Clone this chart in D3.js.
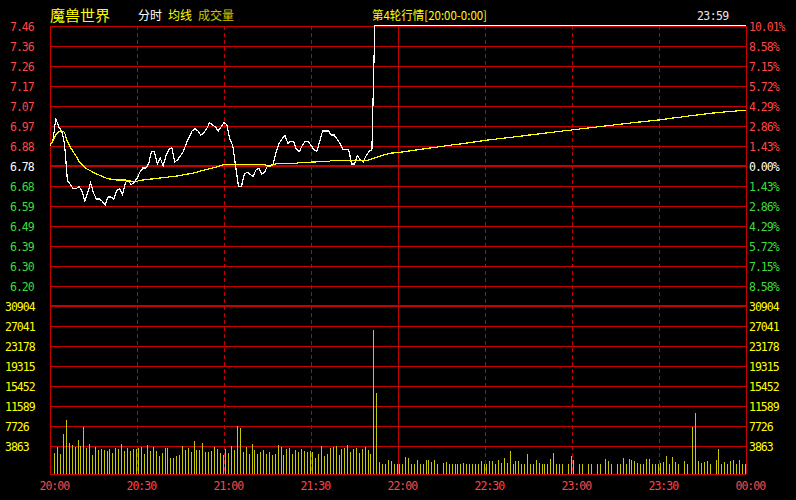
<!DOCTYPE html>
<html><head><meta charset="utf-8">
<script src="https://cdn.jsdelivr.net/npm/d3@7"></script>
<style>body{margin:0;background:#000;overflow:hidden} svg{display:block}</style>
</head><body><svg id="c" width="796" height="500"></svg>
<script>
// ---------------- data ----------------
const stockName = "魔兽世界";
const basePrice = 6.78;
const pctTicks = [10.01, 8.58, 7.15, 5.72, 4.29, 2.86, 1.43, 0, -1.43, -2.86, -4.29, -5.72, -7.15, -8.58];
const priceLabels = ["7.46","7.36","7.26","7.17","7.07","6.97","6.88","6.78","6.68","6.59","6.49","6.39","6.30","6.20"];
const pctLabels = ["10.01%","8.58%","7.15%","5.72%","4.29%","2.86%","1.43%","0.00%","1.43%","2.86%","4.29%","5.72%","7.15%","8.58%"];
const volTicks = [30904, 27041, 23178, 19315, 15452, 11589, 7726, 3863];
const timeTicks = [0, 30, 60, 90, 120, 150, 180, 210, 240];
const timeLabels = ["20:00","20:30","21:00","21:30","22:00","22:30","23:00","23:30","00:00"];

// last price per minute (0..240)
const prices = [
6.88,6.90,7.01,6.97,6.95,6.89,6.71,6.69,6.67,6.67,
6.68,6.66,6.61,6.65,6.70,6.65,6.62,6.62,6.61,6.59,
6.63,6.63,6.62,6.66,6.67,6.64,6.70,6.71,6.69,6.70,
6.72,6.75,6.77,6.77,6.79,6.85,6.85,6.79,6.82,6.78,
6.83,6.86,6.87,6.80,6.81,6.83,6.85,6.89,6.92,6.95,
6.96,6.95,6.93,6.94,6.96,6.99,6.98,6.97,6.95,6.97,
6.99,6.98,6.91,6.88,6.78,6.68,6.68,6.74,6.75,6.74,
6.73,6.76,6.77,6.74,6.75,6.78,6.78,6.79,6.85,6.89,
6.91,6.93,6.89,6.90,6.90,6.86,6.85,6.88,6.90,6.90,
6.88,6.86,6.85,6.90,6.95,6.95,6.95,6.93,6.93,6.91,
6.89,6.86,6.86,6.86,6.79,6.79,6.83,6.81,6.80,6.83,
6.85,6.86,7.46,7.46,7.46,7.46,7.46,7.46,7.46,7.46,
7.46,7.46,7.46,7.46,7.46,7.46,7.46,7.46,7.46,7.46,
7.46,7.46,7.46,7.46,7.46,7.46,7.46,7.46,7.46,7.46,
7.46,7.46,7.46,7.46,7.46,7.46,7.46,7.46,7.46,7.46,
7.46,7.46,7.46,7.46,7.46,7.46,7.46,7.46,7.46,7.46,
7.46,7.46,7.46,7.46,7.46,7.46,7.46,7.46,7.46,7.46,
7.46,7.46,7.46,7.46,7.46,7.46,7.46,7.46,7.46,7.46,
7.46,7.46,7.46,7.46,7.46,7.46,7.46,7.46,7.46,7.46,
7.46,7.46,7.46,7.46,7.46,7.46,7.46,7.46,7.46,7.46,
7.46,7.46,7.46,7.46,7.46,7.46,7.46,7.46,7.46,7.46,
7.46,7.46,7.46,7.46,7.46,7.46,7.46,7.46,7.46,7.46,
7.46,7.46,7.46,7.46,7.46,7.46,7.46,7.46,7.46,7.46,
7.46,7.46,7.46,7.46,7.46,7.46,7.46,7.46,7.46,7.46,
7.46
];

// average price per minute (0..240)
const avgPrices = [
6.882,6.901,6.930,6.946,6.951,6.943,6.899,6.872,6.849,6.828,
6.802,6.787,6.773,6.763,6.757,6.748,6.741,6.736,6.730,6.723,
6.719,6.716,6.714,6.712,6.712,6.712,6.712,6.710,6.706,6.704,
6.705,6.711,6.712,6.714,6.716,6.717,6.718,6.720,6.722,6.723,
6.725,6.727,6.728,6.730,6.732,6.735,6.737,6.740,6.742,6.745,
6.748,6.752,6.756,6.759,6.763,6.766,6.770,6.774,6.778,6.782,
6.787,6.788,6.788,6.788,6.788,6.788,6.788,6.788,6.788,6.788,
6.788,6.788,6.788,6.788,6.788,6.780,6.778,6.788,6.790,6.792,
6.793,6.793,6.793,6.793,6.793,6.793,6.796,6.797,6.798,6.798,
6.799,6.799,6.800,6.800,6.801,6.801,6.802,6.806,6.807,6.807,
6.807,6.807,6.807,6.807,6.807,6.807,6.808,6.808,6.808,6.808,
6.809,6.814,6.819,6.824,6.828,6.833,6.836,6.841,6.843,6.844,
6.845,6.847,6.849,6.851,6.853,6.855,6.857,6.859,6.861,6.863,
6.865,6.867,6.869,6.871,6.873,6.875,6.877,6.879,6.881,6.883,
6.884,6.886,6.888,6.890,6.892,6.894,6.896,6.898,6.900,6.902,
6.904,6.906,6.907,6.909,6.911,6.913,6.914,6.916,6.918,6.919,
6.921,6.923,6.924,6.926,6.928,6.930,6.931,6.933,6.935,6.936,
6.938,6.940,6.941,6.943,6.945,6.947,6.948,6.950,6.952,6.953,
6.955,6.957,6.958,6.960,6.961,6.963,6.965,6.966,6.968,6.970,
6.971,6.973,6.975,6.976,6.978,6.980,6.981,6.983,6.985,6.986,
6.988,6.990,6.991,6.993,6.994,6.996,6.997,6.999,7.000,7.002,
7.003,7.005,7.007,7.009,7.011,7.013,7.014,7.016,7.018,7.020,
7.022,7.024,7.026,7.027,7.029,7.031,7.032,7.034,7.036,7.037,
7.039,7.040,7.041,7.043,7.044,7.045,7.046,7.047,7.049,7.050,
7.051
];

// volume per minute (bar k covers minute k..k+1)
const volumes = [
0,2575,3734,2382,6181,8885,4507,4056,3734,5022,
3927,7597,3541,4249,2125,3734,3090,3284,3090,2897,
3284,2511,3477,3284,4249,2897,3477,2897,3284,3284,
3477,3670,2318,4056,2897,3670,2897,1932,2511,3477,
3477,1545,1545,1932,2125,3863,3090,3477,2704,4829,
3090,3090,4442,2704,2704,2897,3670,3284,2511,2125,
3284,2511,3863,3090,7726,7340,2704,3670,2318,4249,
3090,2318,2704,3090,2318,2704,2125,2318,4056,3670,
2125,3284,3477,2318,3090,2704,3284,2897,2704,2897,
2704,1545,2318,3863,1932,2318,3477,3670,3863,2125,
3284,3477,4056,2704,3284,3477,2511,3284,3670,3090,
2318,26268,14100,773,386,386,1159,966,386,386,
386,386,1738,1545,386,386,1159,386,386,1159,
1159,773,1159,386,0,580,773,386,386,386,
386,386,580,386,386,386,386,386,966,386,
386,966,966,386,1159,580,1545,580,2897,386,
966,966,386,386,2318,386,386,1159,580,386,
386,386,1352,2511,386,386,386,0,386,1932,
1159,0,386,386,0,386,386,0,386,386,
0,1352,966,386,0,386,386,1545,386,1352,
1159,966,580,386,386,1352,1352,386,386,386,
580,773,1932,386,1738,773,386,0,966,386,
0,7533,10237,966,580,773,966,386,0,1159,
3284,386,773,386,966,1159,386,1159,386,386
];

// ---------------- drawing ----------------
const W = 796, H = 500;
const L = 50, R = 746, T = 26, MID = 306, B = 474;
const GRID = "#c80000";
const RED_TXT = "#ff4646", GREEN_TXT = "#3cdc3c", YEL = "#ffff00", OLIVE = "#c8c800";
const MONO = "'DejaVu Sans Mono', 'Liberation Mono', monospace";
const CJK = "'Noto Sans CJK SC', 'Noto Sans', sans-serif";

const svg = d3.select("#c");
svg.append("rect").attr("width", W).attr("height", H).attr("fill", "#000");

const x = d3.scaleLinear().domain([0, 240]).range([L, R]);
const yP = d3.scaleLinear().domain([basePrice * (1 - 0.1001), basePrice * (1 + 0.1001)]).range([MID, T]);
const yV = d3.scaleLinear().domain([0, volTicks[0]]).range([MID + 160, MID]);

const grid = svg.append("g").attr("shape-rendering", "crispEdges");

// horizontal price grid
pctTicks.forEach((p, i) => {
  const yy = Math.round(yP(basePrice * (1 + p / 100)));
  grid.append("line").attr("x1", L).attr("x2", R).attr("y1", yy).attr("y2", yy)
    .attr("stroke", GRID).attr("stroke-width", p === 0 ? 2 : 1);
});
// horizontal volume grid
volTicks.forEach((v, i) => {
  const yy = Math.round(yV(v));
  grid.append("line").attr("x1", L).attr("x2", R).attr("y1", yy).attr("y2", yy)
    .attr("stroke", GRID).attr("stroke-width", i === 0 ? 2 : 1);
});
// vertical grid
timeTicks.forEach((t, i) => {
  const xx = Math.round(x(t));
  const solid = (t === 0 || t === 120 || t === 240);
  grid.append("line").attr("x1", xx).attr("x2", xx).attr("y1", T).attr("y2", B)
    .attr("stroke", GRID).attr("stroke-width", 1)
    .attr("stroke-dasharray", solid ? null : "4,3");
});
// bottom border
grid.append("line").attr("x1", L).attr("x2", R).attr("y1", B).attr("y2", B).attr("stroke", GRID);

// volume bars
svg.append("g").attr("shape-rendering", "crispEdges")
  .selectAll("rect").data(volumes.map((v, k) => ({k, v})).filter(d => d.v > 0))
  .enter().append("rect")
  .attr("x", d => Math.round(x(d.k + 0.5)))
  .attr("width", 1)
  .attr("y", d => Math.round(yV(d.v)))
  .attr("height", d => B - Math.round(yV(d.v)))
  .attr("fill", OLIVE);

// price line
const line = d3.line().x((d, i) => x(i)).y(d => yP(d));
svg.append("path").datum(prices).attr("d", line)
  .attr("fill", "none").attr("stroke", "#ffffff").attr("stroke-width", 1.2)
  .attr("shape-rendering", "crispEdges");
// average line
svg.append("path").datum(avgPrices).attr("d", line)
  .attr("fill", "none").attr("stroke", YEL).attr("stroke-width", 1.2)
  .attr("shape-rendering", "crispEdges");

// left price labels
const txt = svg.append("g").attr("font-family", MONO).attr("font-size", "11.5px").style("letter-spacing", "-1px");
pctTicks.forEach((p, i) => {
  const yy = yP(basePrice * (1 + p / 100));
  const col = p > 0 ? RED_TXT : (p < 0 ? GREEN_TXT : "#ffffff");
  txt.append("text").attr("x", 10).attr("y", yy + 5).attr("fill", col).text(priceLabels[i]);
  txt.append("text").attr("x", 749).attr("y", yy + 5).attr("fill", col).text(pctLabels[i]);
});
volTicks.forEach((v, i) => {
  const yy = yV(v);
  txt.append("text").attr("x", 5).attr("y", yy + 5).attr("fill", YEL).text(String(v));
  txt.append("text").attr("x", 749).attr("y", yy + 5).attr("fill", YEL).text(String(v));
});
timeTicks.forEach((t, i) => {
  txt.append("text").attr("x", x(t) - 10.5).attr("y", 490).attr("fill", RED_TXT).text(timeLabels[i]);
});

// header
svg.append("text").attr("x", 50).attr("y", 20.5).attr("font-family", CJK).attr("font-size", "15px")
  .attr("fill", YEL).text(stockName);
svg.append("text").attr("x", 138).attr("y", 19.5).attr("font-family", CJK).attr("font-size", "12px")
  .attr("fill", "#ffffff").text("分时");
svg.append("text").attr("x", 168).attr("y", 19.5).attr("font-family", CJK).attr("font-size", "12px")
  .attr("fill", YEL).text("均线");
svg.append("text").attr("x", 198).attr("y", 19.5).attr("font-family", CJK).attr("font-size", "12px")
  .attr("fill", OLIVE).text("成交量");
svg.append("text").attr("x", 372).attr("y", 20).attr("font-family", CJK).attr("font-size", "12px")
  .attr("fill", YEL).attr("textLength", 115).attr("lengthAdjust", "spacingAndGlyphs")
  .text("第4轮行情[20:00-0:00]");
svg.append("text").attr("x", 697).attr("y", 20).attr("font-family", MONO).attr("font-size", "11.5px")
  .style("letter-spacing", "-0.6px").attr("fill", "#e8e8e8").text("23:59");
</script>
</body></html>
